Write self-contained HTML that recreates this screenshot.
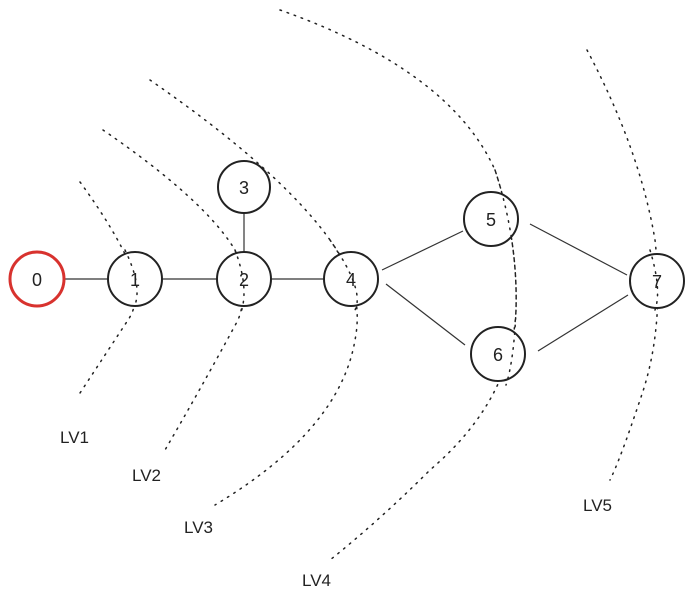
<!DOCTYPE html>
<html><head><style>
html,body{margin:0;padding:0;background:#fff;}
svg{display:block;}
text{font-family:"Liberation Sans",sans-serif;}
</style></head><body>
<svg width="695" height="605" viewBox="0 0 695 605" xmlns="http://www.w3.org/2000/svg">
<g fill="none" stroke="#222" stroke-width="1.5" stroke-dasharray="1.5 6" stroke-linecap="round">
<path d="M80 182 Q115 230 130 265 Q142 300 128 320 Q105 355 80 393"/>
<path d="M103 130 Q205 200 235 250 Q250 290 238 320 Q200 390 165 450"/>
<path d="M150 80 Q280 170 330 240 Q365 290 355 340 Q340 430 215 505"/>
<path d="M280 10 Q450 70 495 170 Q518 240 516 310 Q512 400 430 470 Q380 520 330 560"/>
<path d="M587 50 Q640 150 655 240 Q665 330 640 400 Q620 460 610 480"/>
</g>
<g stroke="#333" stroke-width="1.2">
<line x1="64" y1="279" x2="108" y2="279"/>
<line x1="163" y1="279" x2="217" y2="279"/>
<line x1="272" y1="279" x2="324" y2="279"/>
<line x1="244" y1="214" x2="244" y2="252"/>
<line x1="382" y1="270" x2="463" y2="231"/>
<line x1="386" y1="284" x2="465" y2="345"/>
<line x1="530" y1="224" x2="627" y2="275"/>
<line x1="538" y1="351" x2="628" y2="295"/>
</g>
<g fill="#fff" stroke="#222" stroke-width="2">
<circle cx="135" cy="279" r="27"/>
<circle cx="244" cy="279" r="27"/>
<circle cx="244" cy="187" r="26"/>
<circle cx="351" cy="279" r="27"/>
<circle cx="491" cy="219" r="27"/>
<circle cx="498" cy="354" r="27"/>
<circle cx="657" cy="281" r="27"/>
</g>
<circle cx="37" cy="279" r="27" fill="#fff" stroke="#d8322e" stroke-width="3"/>
<g fill="none" stroke="#222" stroke-width="1.5" stroke-dasharray="1.5 6" stroke-linecap="round">
<path d="M125 250 Q142 285 135 305"/>
<path d="M235 250 Q250 290 240 315"/>
<path d="M330 240 Q365 290 355 310"/>
<path d="M495 170 Q518 240 516 310 Q514 360 506 385"/>
<path d="M650 250 Q662 290 655 310"/>
</g>
<g font-size="18" fill="#222" text-anchor="middle">
<text x="37" y="286">0</text>
<text x="135" y="286">1</text>
<text x="244" y="286">2</text>
<text x="244" y="194">3</text>
<text x="351" y="286">4</text>
<text x="491" y="226">5</text>
<text x="498" y="361">6</text>
<text x="657" y="288">7</text>
</g>
<g font-size="17" fill="#222">
<text x="60" y="443">LV1</text>
<text x="132" y="481">LV2</text>
<text x="184" y="533">LV3</text>
<text x="302" y="586">LV4</text>
<text x="583" y="511">LV5</text>
</g>
</svg>
</body></html>
